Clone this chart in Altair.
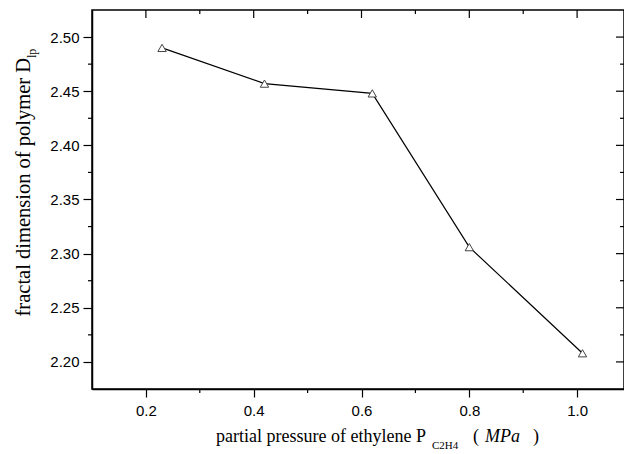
import altair as alt
import pandas as pd

# data
pressure = [0.23, 0.42, 0.62, 0.80, 1.01]
dimension = [2.490, 2.457, 2.448, 2.306, 2.208]

x_major = [0.2, 0.4, 0.6, 0.8, 1.0]
x_minor = [0.3, 0.5, 0.7, 0.9]
y_major = [2.20, 2.25, 2.30, 2.35, 2.40, 2.45, 2.50]
y_minor = [2.225, 2.275, 2.325, 2.375, 2.425, 2.475]

x_title = "partial pressure of ethylene P"
x_sub = "C2H4"
x_unit = "MPa"
y_title = "fractal dimension of polymer D"
y_sub = "lp"

W, H = 532, 379

df = pd.DataFrame({"p": pressure, "d": dimension})
xs = alt.Scale(domain=[0.1, 1.087], nice=False, zero=False)
ys = alt.Scale(domain=[2.175, 2.525], nice=False, zero=False)

line = alt.Chart(df).mark_line(color="black", strokeWidth=1.2).encode(
    x=alt.X("p:Q", scale=xs, title=None,
            axis=alt.Axis(values=x_major, format=".1f", tickSize=8, labelPadding=6)),
    y=alt.Y("d:Q", scale=ys, title=None,
            axis=alt.Axis(values=y_major, format=".2f", tickSize=9, labelPadding=4)),
)
pts = alt.Chart(df).mark_point(shape="triangle-up", size=70, filled=True, fill="white",
                               stroke="#444", strokeWidth=1, opacity=1).encode(
    x=alt.X("p:Q", scale=xs, title=None), y=alt.Y("d:Q", scale=ys, title=None))

xmaj = pd.DataFrame({"v": x_major})
xmin = pd.DataFrame({"v": x_minor})
ymaj = pd.DataFrame({"v": y_major})
ymin = pd.DataFrame({"v": y_minor})

def xrule(d, y0, y1):
    return alt.Chart(d).mark_rule(color="black", strokeWidth=1.2).encode(
        x=alt.X("v:Q", scale=xs, title=None), y=alt.value(y0), y2=alt.value(y1))

def yrule(d, x0, x1):
    return alt.Chart(d).mark_rule(color="black", strokeWidth=1.2).encode(
        y=alt.Y("v:Q", scale=ys, title=None), x=alt.value(x0), x2=alt.value(x1))

ticks = [
    xrule(xmaj, 0, 8), xrule(xmin, 0, 4), xrule(xmin, H, H + 4),
    yrule(ymaj, W - 8, W), yrule(ymin, W - 4, W), yrule(ymin, -4, 0),
]

def txt(s, x, y, size, align="left", angle=0, style="normal"):
    return alt.Chart(pd.DataFrame({"t": [s]})).mark_text(
        font="Liberation Serif", fontSize=size, align=align, baseline="alphabetic",
        angle=angle, fontStyle=style, color="black").encode(
        x=alt.value(x), y=alt.value(y), text="t:N")

texts = [
    txt(x_title, 124, 432, 18),
    txt(x_sub, 340, 439, 11),
    txt("(", 381, 432, 18),
    txt(x_unit, 393, 432, 18, style="italic"),
    txt(")", 441, 432, 18),
    txt(y_title, -62, 48, 20.5, align="right", angle=270),
    txt(y_sub, -56, 48, 12, align="left", angle=270),
]

chart = alt.layer(line, pts, *ticks, *texts).properties(
    width=W, height=H, autosize="none",
    padding={"left": 84, "top": 2, "right": 0, "bottom": 63},
).configure_view(stroke="black", strokeWidth=1.5).configure_axis(
    grid=False, domainColor="black", domainWidth=1.5, tickColor="black", tickWidth=1.2,
    labelFont="Liberation Sans", labelFontSize=15, labelColor="black",
)

chart.save("out.html", embed_options={"renderer": "svg", "actions": False})
